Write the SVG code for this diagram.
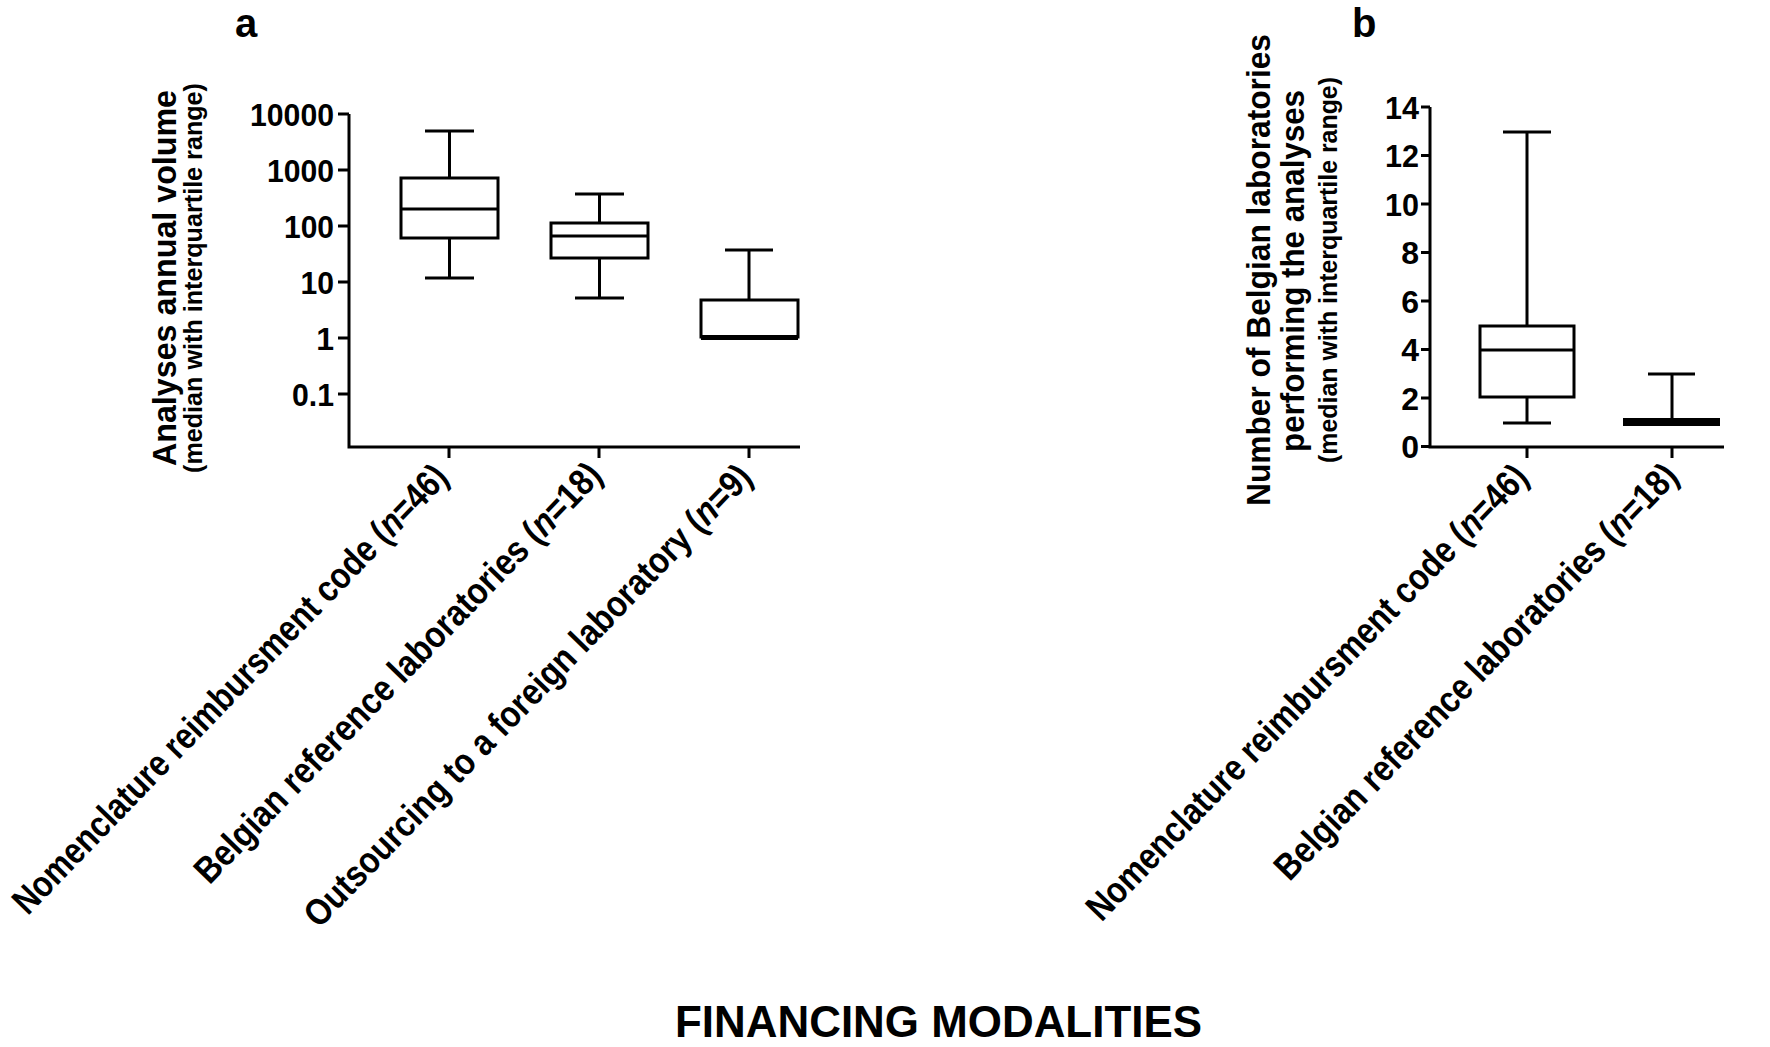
<svg xmlns="http://www.w3.org/2000/svg" width="1770" height="1047" viewBox="0 0 1770 1047">
<style>
.ln{stroke:#000;stroke-width:3;fill:none;stroke-linecap:butt}
.bx{stroke:#000;stroke-width:3;fill:#fff}
.t{font-family:"Liberation Sans",Arial,sans-serif;font-weight:bold;fill:#000}
.tick{font-size:32px;text-anchor:end}
.title{font-size:34px;text-anchor:middle}
.sub{font-size:26px;text-anchor:middle}
.cat{font-size:37px;text-anchor:end}
.panel{font-size:40px}
</style>
<rect width="1770" height="1047" fill="#fff"/>

<g id="panel-a">
  <text class="t panel" x="235" y="36.5">a</text>
  <g id="a-ytitle">
    <text class="t title" transform="translate(176,278) rotate(-90)" textLength="376" lengthAdjust="spacingAndGlyphs">Analyses annual volume</text>
    <text class="t sub" transform="translate(202,278) rotate(-90)" textLength="390" lengthAdjust="spacingAndGlyphs">(median with interquartile range)</text>
  </g>
  <g id="a-axes">
    <path class="ln" d="M349,114 V447 H800"/>
    <path class="ln" d="M338,114 H349 M338,170 H349 M338,226 H349 M338,282 H349 M338,338 H349 M338,394 H349"/>
    <path class="ln" d="M449,447 V458 M599,447 V458 M749,447 V458"/>
    <g class="t tick">
      <text x="334" y="125.5" textLength="84" lengthAdjust="spacingAndGlyphs">10000</text>
      <text x="334" y="181.5" textLength="67" lengthAdjust="spacingAndGlyphs">1000</text>
      <text x="334" y="237.5" textLength="50" lengthAdjust="spacingAndGlyphs">100</text>
      <text x="334" y="293.5" textLength="33.5" lengthAdjust="spacingAndGlyphs">10</text>
      <text x="334" y="349.5">1</text>
      <text x="334" y="405.5" textLength="42" lengthAdjust="spacingAndGlyphs">0.1</text>
    </g>
  </g>
  <g id="a-box1">
    <path class="ln" d="M449.5,131 V178 M449.5,238 V278 M425,131 H474 M425,278 H474"/>
    <rect class="bx" x="401" y="178" width="97" height="60"/>
    <path class="ln" d="M401,209 H498"/>
  </g>
  <g id="a-box2">
    <path class="ln" d="M599.5,194 V223 M599.5,258 V298 M575,194 H624 M575,298 H624"/>
    <rect class="bx" x="551" y="223" width="97" height="35"/>
    <path class="ln" d="M551,236 H648"/>
  </g>
  <g id="a-box3">
    <path class="ln" d="M749,250 V300 M725,250 H773"/>
    <rect class="bx" x="701" y="300" width="97" height="37"/>
    <path class="ln" d="M701,337.5 H798" style="stroke-width:5"/>
  </g>
  <g id="a-categories" class="t cat">
    <text transform="translate(450,479) rotate(-46)" textLength="608" lengthAdjust="spacingAndGlyphs">Nomenclature reimbursment code (<tspan font-style="italic">n</tspan>=46)</text>
    <text transform="translate(604,477) rotate(-46)" textLength="568" lengthAdjust="spacingAndGlyphs">Belgian reference laboratories (<tspan font-style="italic">n</tspan>=18)</text>
    <text transform="translate(754,479) rotate(-46)" textLength="626" lengthAdjust="spacingAndGlyphs">Outsourcing to a foreign laboratory (<tspan font-style="italic">n</tspan>=9)</text>
  </g>
</g>

<g id="panel-b">
  <text class="t panel" x="1352" y="36.5">b</text>
  <g id="b-ytitle">
    <text class="t title" transform="translate(1270,270) rotate(-90)" textLength="472" lengthAdjust="spacingAndGlyphs">Number of Belgian laboratories</text>
    <text class="t title" transform="translate(1304,271) rotate(-90)" textLength="362" lengthAdjust="spacingAndGlyphs">performing the analyses</text>
    <text class="t sub" transform="translate(1337,270) rotate(-90)" textLength="386" lengthAdjust="spacingAndGlyphs">(median with interquartile range)</text>
  </g>
  <g id="b-axes">
    <path class="ln" d="M1430,107 V447 H1724"/>
    <path class="ln" d="M1421,107 H1430 M1421,155.5 H1430 M1421,204 H1430 M1421,252.5 H1430 M1421,301 H1430 M1421,349.5 H1430 M1421,398 H1430 M1421,446.5 H1430"/>
    <path class="ln" d="M1527,447 V458 M1672,447 V458"/>
    <g class="t tick">
      <text x="1419" y="118.5" textLength="34" lengthAdjust="spacingAndGlyphs">14</text>
      <text x="1419" y="167" textLength="34" lengthAdjust="spacingAndGlyphs">12</text>
      <text x="1419" y="215.5" textLength="34" lengthAdjust="spacingAndGlyphs">10</text>
      <text x="1419" y="264">8</text>
      <text x="1419" y="312.5">6</text>
      <text x="1419" y="361">4</text>
      <text x="1419" y="409.5">2</text>
      <text x="1419" y="458">0</text>
    </g>
  </g>
  <g id="b-box1">
    <path class="ln" d="M1527,132 V326 M1527,397 V423 M1503,132 H1551 M1503,423 H1551"/>
    <rect class="bx" x="1480" y="326" width="94" height="71"/>
    <path class="ln" d="M1480,350 H1574"/>
  </g>
  <g id="b-box2">
    <path class="ln" d="M1672,374 V419 M1648,374 H1695"/>
    <rect x="1623" y="418" width="97" height="8" fill="#000"/>
  </g>
  <g id="b-categories" class="t cat">
    <text transform="translate(1530,479) rotate(-46)" textLength="617" lengthAdjust="spacingAndGlyphs">Nomenclature reimbursment code (<tspan font-style="italic">n</tspan>=46)</text>
    <text transform="translate(1680,478) rotate(-46)" textLength="562" lengthAdjust="spacingAndGlyphs">Belgian reference laboratories (<tspan font-style="italic">n</tspan>=18)</text>
  </g>
</g>

<text id="x-title" class="t" x="938.5" y="1037" font-size="45" text-anchor="middle" textLength="527" lengthAdjust="spacingAndGlyphs">FINANCING MODALITIES</text>
</svg>
